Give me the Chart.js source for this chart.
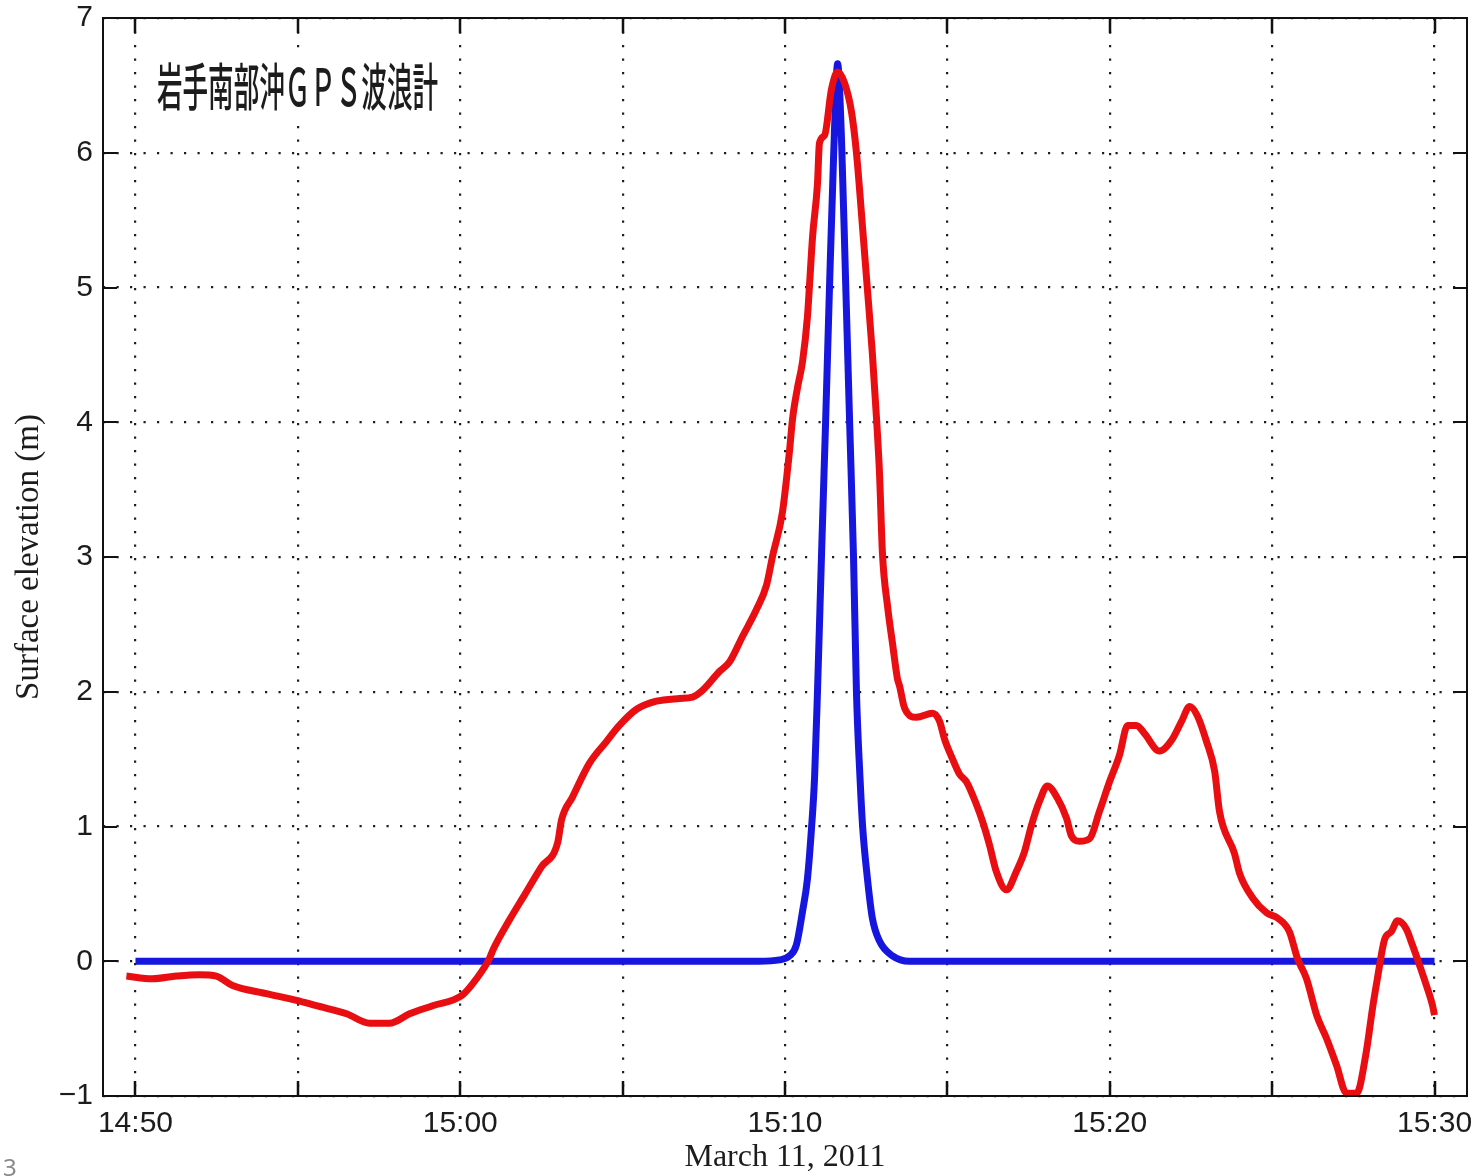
<!DOCTYPE html>
<html>
<head>
<meta charset="utf-8">
<script src="https://cdn.jsdelivr.net/npm/chart.js@4.4.1/dist/chart.umd.min.js"></script>
<style>
  html, body { margin: 0; padding: 0; background: #ffffff; }
  #wrap { position: relative; width: 1478px; height: 1176px; overflow: hidden; }
  #pageNo { position: absolute; left: 3px; top: 1150px; font: 24px "Noto Sans", sans-serif; color: #8a8a8a; }
</style>
</head>
<body>
<div id="wrap">
  <canvas id="c" width="1478" height="1176"></canvas>
  <div id="pageNo">3</div>
</div>
<script>
// ---- data (minutes after 14:50, March 11, 2011) ----
const redTimes = [-0.28, 0.52, 1.26, 1.97, 2.49, 2.99, 4.03, 4.96, 5.57, 6.5, 7.21, 7.82, 8.44, 9.15, 10.07, 10.5, 10.9,
  11.0, 11.5, 12.0, 12.5, 13.0, 13.12, 13.46, 13.98, 14.5, 14.9, 15.43, 16.04, 16.75, 17.15, 17.46, 17.98, 18.29, 18.69,
  19.12, 19.43, 19.62, 19.92, 20.14, 20.23, 20.38, 20.54, 20.69, 20.75, 20.85, 21.0, 21.06, 21.22, 21.43, 21.62, 21.83,
  22.05, 22.2, 22.39, 22.54, 22.69, 22.82, 22.91, 23.0, 23.16, 23.31, 23.46, 23.53, 23.68, 24.05, 24.54, 24.76, 24.91,
  25.16, 25.37, 25.59, 25.9, 26.08, 26.3, 26.5, 26.82, 27.13, 27.37, 27.59, 27.84, 28.08, 28.39, 28.67, 28.82, 29.07,
  29.38, 29.68, 29.99, 30.3, 30.55, 30.82, 31.07, 31.53, 31.93, 32.21, 32.46, 32.7, 32.98, 33.23, 33.38, 33.84, 34.0,
  34.4, 34.83, 35.17, 35.53, 35.78, 36.06, 36.37, 36.67, 36.98, 37.29, 37.6, 37.9, 38.09, 38.24, 38.46, 38.67, 38.86,
  39.13, 39.32, 39.54, 39.75, 39.94, 40.0];
const redValues = [-0.11, -0.13, -0.11, -0.10, -0.11, -0.18, -0.24, -0.29, -0.33, -0.39, -0.46, -0.46, -0.39, -0.33, -0.25, -0.13, 0.02,
  0.08, 0.30, 0.50, 0.70, 0.88, 1.05, 1.22, 1.47, 1.63, 1.75, 1.87, 1.93, 1.95, 1.96, 2.01, 2.15, 2.22, 2.41,
  2.61, 2.79, 3.01, 3.33, 3.79, 4.02, 4.25, 4.45, 4.78, 5.0, 5.38, 5.77, 6.07, 6.13, 6.47, 6.6, 6.52,
  6.30, 6.0, 5.44, 4.98, 4.51, 4.02, 3.62, 3.03, 2.63, 2.36, 2.10, 2.04, 1.88, 1.81, 1.84, 1.78, 1.65,
  1.50, 1.39, 1.33, 1.16, 1.04, 0.86, 0.67, 0.53, 0.67, 0.81, 1.01, 1.19, 1.30, 1.21, 1.06, 0.93, 0.89,
  0.91, 1.11, 1.33, 1.53, 1.75, 1.75, 1.69, 1.56, 1.65, 1.78, 1.89, 1.82, 1.63, 1.41, 1.11, 0.80, 0.65,
  0.47, 0.36, 0.32, 0.22, 0.02, -0.13, -0.40, -0.57, -0.77, -0.98, -0.98, -0.67, -0.35, -0.13, 0.16, 0.22, 0.30,
  0.24, 0.12, -0.03, -0.18, -0.33, -0.40];

const blueTimes = [0, 19.2, 19.83, 20.14, 20.35, 20.54, 20.69, 20.82, 20.91, 21.0, 21.13, 21.25, 21.37, 21.5, 21.62,
  21.74, 21.86, 21.99, 22.11, 22.2, 22.31, 22.39, 22.54, 22.69, 22.91, 23.31, 23.83, 40];
const blueValues = [0, 0, 0.01, 0.04, 0.12, 0.37, 0.61, 1.0, 1.36, 2.0, 3.06, 4.0, 5.0, 6.0, 6.66,
  6.1, 5.1, 4.0, 3.0, 2.0, 1.36, 1.0, 0.61, 0.32, 0.15, 0.04, 0, 0];

const xGridMinutes = [0, 5, 10, 15, 20, 25, 30, 35, 40];
const xTickLabels = { 0: '14:50', 10: '15:00', 20: '15:10', 30: '15:20', 40: '15:30' };
const yTickValues = [-1, 0, 1, 2, 3, 4, 5, 6, 7];
const insetLabel = '岩手南部沖ＧＰＳ波浪計';
const xTitle = 'March 11, 2011';
const yTitle = 'Surface elevation (m)';

// ---- plugins ----
const insetPlugin = {
  id: 'inset',
  beforeDatasetsDraw(chart) {
    const ctx = chart.ctx;
    ctx.save();
    ctx.fillStyle = '#ffffff';
    ctx.fillRect(148, 48, 300, 78);
    ctx.font = '500 51px "Noto Sans CJK JP"';
    ctx.fillStyle = '#1c1c1c';
    ctx.textBaseline = 'middle';
    const w = ctx.measureText(insetLabel).width;
    const sx = 281 / w;
    ctx.translate(157, 87);
    ctx.scale(sx, 1);
    ctx.fillText(insetLabel, 0, 0);
    ctx.restore();
  }
};

const framePlugin = {
  id: 'frame',
  afterDatasetsDraw(chart) {
    const ctx = chart.ctx;
    const a = chart.chartArea;
    const xs = chart.scales.x, ys = chart.scales.y;
    ctx.save();
    ctx.strokeStyle = '#111111';
    ctx.lineWidth = 2.5;
    xGridMinutes.forEach(v => {
      const px = Math.round(xs.getPixelForValue(v));
      ctx.beginPath();
      ctx.moveTo(px, a.bottom); ctx.lineTo(px, a.bottom - 15);
      ctx.moveTo(px, a.top); ctx.lineTo(px, a.top + 15);
      ctx.stroke();
    });
    ctx.lineWidth = 2;
    yTickValues.forEach(v => {
      const py = Math.round(ys.getPixelForValue(v));
      ctx.beginPath();
      ctx.moveTo(a.left, py); ctx.lineTo(a.left + 14, py);
      ctx.moveTo(a.right, py); ctx.lineTo(a.right - 14, py);
      ctx.stroke();
    });
    ctx.lineWidth = 2;
    ctx.strokeRect(a.left, a.top, a.right - a.left, a.bottom - a.top);
    ctx.restore();
  }
};

const toPts = (ts, vs) => ts.map((t, i) => ({ x: t, y: vs[i] }));

new Chart(document.getElementById('c'), {
  type: 'line',
  data: {
    datasets: [
      {
        label: 'observed',
        data: toPts(redTimes, redValues),
        borderColor: 'rgb(232,14,18)',
        borderWidth: 7,
        pointRadius: 0,
        cubicInterpolationMode: 'monotone',
        borderJoinStyle: 'round',
        borderCapStyle: 'butt',
        fill: false,
        order: 0
      },
      {
        label: 'model',
        data: toPts(blueTimes, blueValues),
        borderColor: 'rgb(22,22,222)',
        borderWidth: 7,
        pointRadius: 0,
        cubicInterpolationMode: 'monotone',
        borderJoinStyle: 'round',
        borderCapStyle: 'butt',
        fill: false,
        order: 1
      }
    ]
  },
  options: {
    responsive: false,
    devicePixelRatio: 1,
    animation: false,
    events: [],
    layout: { padding: { top: 18, right: 11, left: 0, bottom: 0 } },
    plugins: { legend: { display: false }, tooltip: { enabled: false }, title: { display: false } },
    scales: {
      x: {
        type: 'linear',
        min: -1,
        max: 41,
        afterBuildTicks: s => { s.ticks = xGridMinutes.map(v => ({ value: v })); },
        afterFit: s => { s.height = 80; s.paddingLeft = 0; s.paddingRight = 0; },
        ticks: {
          autoSkip: false,
          maxRotation: 0,
          padding: 10,
          color: '#1c1c1c',
          font: { family: '"Liberation Sans", Arial, sans-serif', size: 30 },
          callback: v => (xTickLabels[v] !== undefined ? xTickLabels[v] : '')
        },
        grid: { color: '#1e1e1e', lineWidth: 2.2, drawTicks: false },
        border: { display: false, dash: [2.2, 11.3] },
        title: {
          display: true,
          text: xTitle,
          color: '#1c1c1c',
          font: { family: '"Liberation Serif", "Times New Roman", serif', size: 32, lineHeight: 1.0 },
          padding: { top: 0, bottom: 2 }
        }
      },
      y: {
        type: 'linear',
        min: -1,
        max: 7,
        afterBuildTicks: s => { s.ticks = yTickValues.map(v => ({ value: v })); },
        afterFit: s => { s.width = 103; s.paddingTop = 0; s.paddingBottom = 0; },
        ticks: {
          padding: 10,
          color: '#1c1c1c',
          font: { family: '"Liberation Sans", Arial, sans-serif', size: 30 },
          callback: v => (v < 0 ? '\u2212' + Math.abs(v) : String(v))
        },
        grid: { color: '#1e1e1e', lineWidth: 2.2, drawTicks: false },
        border: { display: false, dash: [2.2, 11.3] },
        title: {
          display: true,
          text: yTitle,
          color: '#1c1c1c',
          font: { family: '"Liberation Serif", "Times New Roman", serif', size: 33, lineHeight: 1.2 },
          padding: { top: 10, bottom: 0 }
        }
      }
    }
  },
  plugins: [insetPlugin, framePlugin]
});
</script>
</body>
</html>
